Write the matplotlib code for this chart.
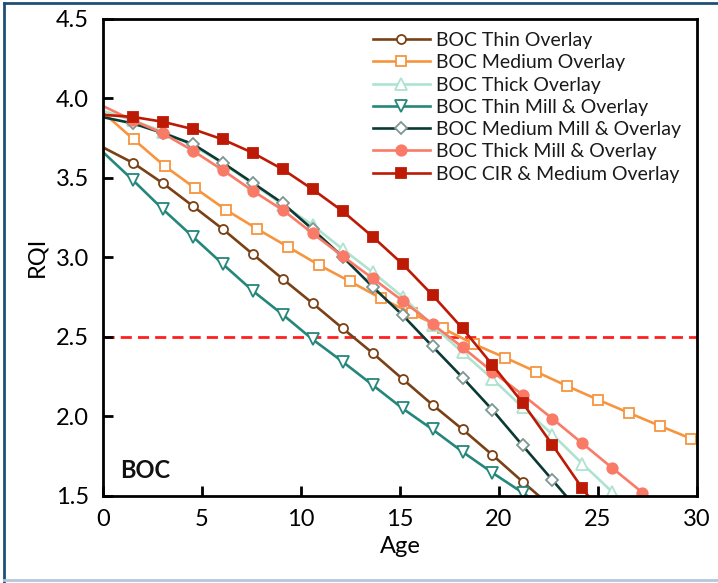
import matplotlib
matplotlib.use("Agg")
import matplotlib.pyplot as plt
from matplotlib.lines import Line2D

plt.rcParams['font.family'] = ['Lato', 'DejaVu Sans']

# ---- data ----
ages = [0, 1.51, 3.03, 4.54, 6.05, 7.56, 9.08, 10.59, 12.1, 13.62, 15.13,
        16.64, 18.16, 19.67, 21.19, 22.7, 24.21, 25.72, 27.24, 28.75]
ages_medium_overlay = [0, 1.55, 3.12, 4.67, 6.22, 7.8, 9.36, 10.91, 12.47, 14.02,
                       15.6, 17.17, 18.73, 20.3, 21.87, 23.44, 25.0, 26.58, 28.15,
                       29.72, 31.29]

thin_overlay = [3.69, 3.593, 3.464, 3.321, 3.176, 3.019, 2.862, 2.709, 2.552, 2.396,
                2.233, 2.071, 1.916, 1.755, 1.587, 1.424]
medium_overlay = [3.91, 3.740, 3.572, 3.432, 3.296, 3.176, 3.063, 2.950, 2.847, 2.742,
                  2.646, 2.551, 2.453, 2.368, 2.279, 2.189, 2.103, 2.019, 1.937, 1.857,
                  1.777]
thick_overlay = [3.92, 3.86, 3.79, 3.70, 3.59, 3.46, 3.33, 3.20, 3.05, 2.905, 2.75,
                 2.57, 2.40, 2.234, 2.055, 1.884, 1.70, 1.522, 1.35]
thin_mill = [3.66, 3.484, 3.30, 3.128, 2.956, 2.788, 2.638, 2.482, 2.342, 2.195, 2.048,
             1.916, 1.775, 1.643, 1.518, 1.39]
medium_mill = [3.88, 3.841, 3.78, 3.711, 3.593, 3.467, 3.338, 3.174, 3.002, 2.813, 2.635,
               2.438, 2.242, 2.038, 1.815, 1.597, 1.378]
thick_mill = [3.95, 3.86, 3.778, 3.669, 3.547, 3.417, 3.296, 3.149, 3.006, 2.866, 2.725,
              2.579, 2.432, 2.279, 2.134, 1.983, 1.828, 1.673, 1.519, 1.37]
cir_medium = [3.895, 3.882, 3.851, 3.805, 3.740, 3.656, 3.552, 3.426, 3.289, 3.128, 2.956,
              2.761, 2.551, 2.321, 2.084, 1.818, 1.545, 1.30]

threshold = 2.5
x_ticks = [0, 5, 10, 15, 20, 25, 30]
y_ticks = [1.5, 2.0, 2.5, 3.0, 3.5, 4.0, 4.5]

series = [
    ("BOC Thin Overlay", ages, thin_overlay, "#7a4116", "o", "white", "#7a4116", 6.5),
    ("BOC Medium Overlay", ages_medium_overlay, medium_overlay, "#f7953f", "s", "white", "#f7953f", 7),
    ("BOC Thick Overlay", ages, thick_overlay, "#aee3cf", "^", "white", "#aee3cf", 8),
    ("BOC Thin Mill & Overlay", ages, thin_mill, "#25877b", "v", "white", "#25877b", 8),
    ("BOC Medium Mill & Overlay", ages, medium_mill, "#0b3a34", "D", "white", "#7f9793", 6),
    ("BOC Thick Mill & Overlay", ages, thick_mill, "#f97b67", "o", "#f97b67", "#f97b67", 7.5),
    ("BOC CIR & Medium Overlay", ages, cir_medium, "#bd1a06", "s", "#bd1a06", "#bd1a06", 7.5),
]

fig = plt.figure(figsize=(7.18, 5.83), dpi=100)
ax = fig.add_axes([0.1435, 0.150, 0.8273, 0.818])

handles = []
for label, xs, ys, col, mk, fc, ec, ms in series:
    n = len(ys)
    ln, = ax.plot(xs[:n], ys, color=col, lw=1.9, marker=mk, markersize=ms,
                  markerfacecolor=fc, markeredgecolor=ec, markeredgewidth=1.3,
                  markevery=slice(1, n), label=label)
    handles.append(ln)

ax.axhline(threshold, color="#ff1f1f", lw=2.0, linestyle=(0, (4, 2.2)), zorder=1)

ax.set_xlim(0, 30)
ax.set_ylim(1.5, 4.5)
ax.set_xticks(x_ticks)
ax.set_yticks(y_ticks)
ax.set_xticklabels([str(t) for t in x_ticks])
ax.set_yticklabels([f"{t:.1f}" for t in y_ticks])
ax.tick_params(direction="in", length=7, width=2, labelsize=17, pad=10,
               top=False, right=False)
for s in ax.spines.values():
    s.set_linewidth(2)

ax.set_xlabel("Age", fontsize=17, labelpad=4)
ax.set_ylabel("RQI", fontsize=17, labelpad=6)

ax.text(0.85, 1.585, "BOC", fontsize=17, fontweight="bold", ha="left", va="bottom",
        color="#111111")

leg = ax.legend(handles=handles, loc="upper left", bbox_to_anchor=(0.455, 0.972),
                frameon=False, fontsize=14, handlelength=2.9, handletextpad=0.3,
                labelspacing=0.27, borderpad=0, borderaxespad=0)
for t in leg.get_texts():
    t.set_color("#1a1a1a")

# outer frame lines
fig.add_artist(Line2D([0.006, 0.006], [0.0, 0.995], transform=fig.transFigure,
                      color="#1f4e79", lw=2))
fig.add_artist(Line2D([0.006, 1.0], [0.995, 0.995], transform=fig.transFigure,
                      color="#1f4e79", lw=2))
fig.add_artist(Line2D([0.006, 1.0], [0.005, 0.005], transform=fig.transFigure,
                      color="#b4c7dc", lw=2))

fig.savefig("out.png", dpi=100)
